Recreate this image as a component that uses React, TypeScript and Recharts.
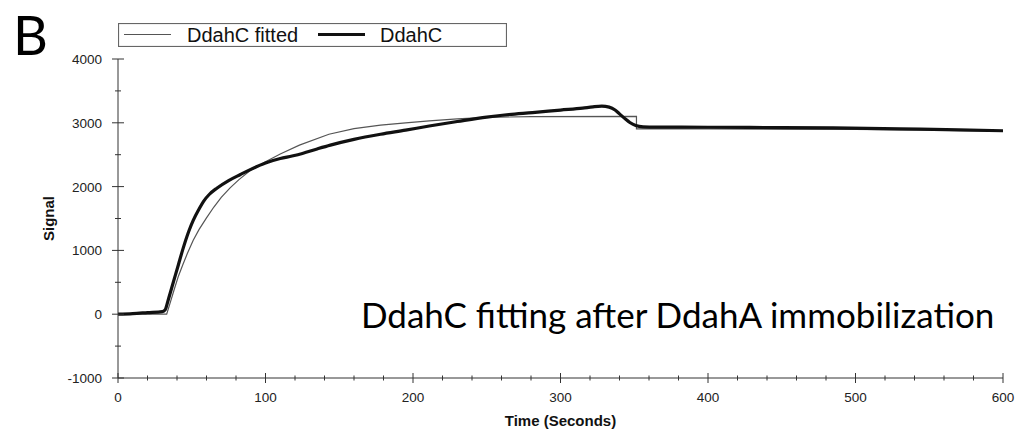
import React from 'react';
import { LineChart, Line, XAxis, YAxis, Legend } from 'recharts';

// Sensorgram: measured DdahC response and its kinetic fit (time in s, signal in RU)
const measuredTime = [0, 10, 20, 30, 32, 34, 37.5, 41, 44, 48, 51, 55, 58, 62, 67, 75, 83, 90, 100, 110, 118, 125, 135, 144, 160, 178, 195, 211, 230, 250, 265, 281, 300, 315, 322, 328, 333, 337, 340, 344, 347, 351, 356, 365, 400, 450, 485, 530, 570, 600];
const measuredSignal = [0, 10, 25, 40, 70, 220, 500, 780, 1020, 1300, 1470, 1650, 1770, 1880, 1975, 2095, 2190, 2270, 2370, 2440, 2480, 2520, 2590, 2650, 2740, 2820, 2885, 2950, 3020, 3090, 3130, 3160, 3200, 3230, 3250, 3260, 3245, 3200, 3140, 3060, 3005, 2958, 2937, 2932, 2930, 2925, 2920, 2905, 2890, 2875];

const fittedTime = [0, 33, 35, 38, 41, 44, 47, 51, 55, 60, 65, 70, 76, 82, 89, 100, 110, 123, 143, 160, 178, 195, 211, 230, 250, 280, 351.5, 351.5, 400, 450, 500, 550, 600];
const fittedSignal = [0, 0, 150, 380, 600, 780, 950, 1160, 1330, 1510, 1680, 1830, 1980, 2110, 2240, 2390, 2510, 2650, 2820, 2910, 2965, 3000, 3030, 3060, 3085, 3097, 3100, 2905, 2905, 2900, 2895, 2885, 2870];

const xTicks = [0, 20, 40, 60, 80, 100, 120, 140, 160, 180, 200, 220, 240, 260, 280, 300, 320, 340, 360, 380, 400, 420, 440, 460, 480, 500, 520, 540, 560, 580, 600];
const yTicks = [-1000, -500, 0, 500, 1000, 1500, 2000, 2500, 3000, 3500, 4000];
const legendOrder = ['DdahC fitted', 'DdahC'];

const measured = measuredTime.map((t, i) => ({ t, v: measuredSignal[i] }));
const fitted = fittedTime.map((t, i) => ({ t, v: fittedSignal[i] }));

const AXIS = '#333';
const TICK_FONT = { fontFamily: 'Liberation Sans, Arial, sans-serif', fontSize: 13.5, fill: '#222' };

const XTick = (props: any) => {
  const { x, y, payload } = props;
  const major = payload.value % 100 === 0;
  const h = major ? 5 : 2.5;
  return (
    <g>
      <line x1={x} x2={x} y1={y - h} y2={y + h} stroke={AXIS} strokeWidth={1} />
      {major && (
        <text x={x} y={y + 24} textAnchor="middle" {...TICK_FONT}>
          {payload.value}
        </text>
      )}
    </g>
  );
};

const YTick = (props: any) => {
  const { x, y, payload } = props;
  const major = payload.value % 1000 === 0;
  const w = major ? 6 : 3;
  return (
    <g>
      <line x1={x - w} x2={x + w} y1={y} y2={y} stroke={AXIS} strokeWidth={1} />
      {major && (
        <text x={x - 16} y={y + 5} textAnchor="end" {...TICK_FONT}>
          {payload.value}
        </text>
      )}
    </g>
  );
};

const LegendBox = (props: any) => {
  const payload = [...(props.payload || [])].sort(
    (a: any, b: any) => legendOrder.indexOf(a.value) - legendOrder.indexOf(b.value)
  );
  const slots = [
    { line: 6, text: 69 },
    { line: 200, text: 262 },
  ];
  return (
    <svg width={389} height={24} style={{ display: 'block' }}>
      <rect x={0.5} y={0.5} width={388} height={23} fill="#fff" stroke="#666" strokeWidth={1.2} />
      {payload.map((entry: any, i: number) => {
        const s = slots[i] || slots[0];
        const sw = entry?.payload?.strokeWidth ?? 1;
        return (
          <g key={entry.value}>
            <line x1={s.line} x2={s.line + 47} y1={11.5} y2={11.5} stroke={entry.color} strokeWidth={sw} />
            <text x={s.text} y={18.5} fontFamily="Liberation Sans, Arial, sans-serif" fontSize={20} fill="#111">
              {entry.value}
            </text>
          </g>
        );
      })}
    </svg>
  );
};

export default function App() {
  return (
    <div style={{ position: 'absolute', left: 0, top: 0, width: 1017, height: 431, background: '#fff' }}>
      <LineChart width={1017} height={431} margin={{ top: 59, right: 14, bottom: 0, left: 48 }}>
        <XAxis
          type="number"
          dataKey="t"
          domain={[0, 600]}
          ticks={xTicks}
          interval={0}
          height={53}
          tickSize={0}
          tickMargin={0}
          tickLine={false}
          tick={<XTick />}
          stroke={AXIS}
          allowDuplicatedCategory={false}
          label={{
            content: (p: any) => {
              const vb = p.viewBox;
              return (
                <text x={vb.x + vb.width / 2} y={426} textAnchor="middle" fontFamily="Liberation Sans, Arial, sans-serif" fontSize={15} fontWeight="bold" fill="#111">
                  Time (Seconds)
                </text>
              );
            },
          }}
        />
        <YAxis
          type="number"
          dataKey="v"
          domain={[-1000, 4000]}
          ticks={yTicks}
          interval={0}
          width={70}
          tickSize={0}
          tickMargin={0}
          tickLine={false}
          tick={<YTick />}
          stroke={AXIS}
          label={{
            content: (p: any) => {
              const vb = p.viewBox;
              const cx = vb.x;
              const cy = vb.y + vb.height / 2;
              return (
                <text x={cx} y={cy} transform={`rotate(-90 ${cx} ${cy})`} textAnchor="middle" dominantBaseline="central" fontFamily="Liberation Sans, Arial, sans-serif" fontSize={15} fontWeight="bold" fill="#111">
                  Signal
                </text>
              );
            },
          }}
        />
        <Legend
          layout="horizontal"
          verticalAlign="middle"
          align="center"
          content={<LegendBox />}
          wrapperStyle={{ position: 'absolute', left: 118, top: 23, width: 389, height: 24 }}
        />
        <Line
          name="DdahC fitted"
          data={fitted}
          dataKey="v"
          type="linear"
          stroke="#555"
          strokeWidth={1.2}
          dot={false}
          isAnimationActive={false}
        />
        <Line
          name="DdahC"
          data={measured}
          dataKey="v"
          type="monotone"
          stroke="#111"
          strokeWidth={3.2}
          strokeLinejoin="round"
          dot={false}
          isAnimationActive={false}
        />
      </LineChart>
      <svg width={1017} height={431} style={{ position: 'absolute', left: 0, top: 0, pointerEvents: 'none' }}>
        <text x={13} y={55} fontFamily="Lato, sans-serif" fontSize={54} fill="#000">
          B
        </text>
        <text x={361} y={328} fontFamily="Lato, sans-serif" fontSize={35} fill="#000">
          DdahC fitting after DdahA immobilization
        </text>
      </svg>
    </div>
  );
}
